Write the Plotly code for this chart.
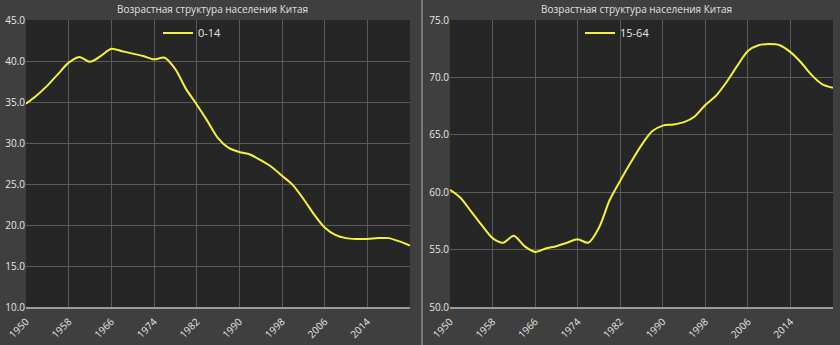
import plotly.graph_objects as go

# Population share by age group, China (percent)
years = list(range(1950, 2023, 2))

share_0_14 = [34.8, 35.8, 37.0, 38.4, 39.8, 40.5, 39.9, 40.6, 41.5, 41.2,
              40.9, 40.6, 40.2, 40.4, 39.0, 36.6, 34.7, 32.7, 30.6, 29.4,
              28.9, 28.6, 27.9, 27.1, 26.0, 24.9, 23.2, 21.3, 19.7, 18.8,
              18.4, 18.3, 18.3, 18.4, 18.4, 18.0, 17.5]

share_15_64 = [60.2, 59.5, 58.3, 57.1, 56.0, 55.6, 56.2, 55.3, 54.8, 55.1,
               55.3, 55.6, 55.9, 55.6, 56.9, 59.3, 61.0, 62.6, 64.1, 65.3,
               65.8, 65.9, 66.1, 66.6, 67.6, 68.4, 69.6, 71.0, 72.3, 72.8,
               72.9, 72.8, 72.2, 71.3, 70.2, 69.4, 69.1]

tick_years = list(range(1950, 2015, 8))
title_text = "Возрастная структура населения Китая"

W, H = 840, 345
LINE_COLOR = "#f4f23a"
PAPER = "#3f3f3f"
PLOT_BG = "#262626"
GRID = "#5a5a5a"
FONT = "Open Sans"

fig = go.Figure()

fig.add_trace(go.Scatter(
    x=years, y=share_0_14, name="0-14", mode="lines",
    line=dict(color=LINE_COLOR, width=2, shape="spline", smoothing=0.8),
    xaxis="x", yaxis="y", legend="legend",
))
fig.add_trace(go.Scatter(
    x=years, y=share_15_64, name="15-64", mode="lines",
    line=dict(color=LINE_COLOR, width=2, shape="spline", smoothing=0.8),
    xaxis="x2", yaxis="y2", legend="legend2",
))

y_top = 1 - 20 / H
y_bot = 1 - 307 / H

common_x = dict(
    range=[1950, 2022], tickvals=tick_years, ticktext=[str(t) for t in tick_years],
    tickangle=-45, showgrid=True, gridcolor=GRID, gridwidth=1,
    showline=True, linecolor="#9a9a9a", linewidth=2, zeroline=False,
    ticks="", ticklen=0, automargin=False, ticklabelstandoff=3,
    tickfont=dict(family=FONT, size=10, color="#e6e6e6"),
)
common_y = dict(
    showgrid=True, gridcolor=GRID, gridwidth=1, zeroline=False,
    showline=False, ticks="", tickformat=".1f", automargin=False,
    tickfont=dict(family=FONT, size=10, color="#e6e6e6"),
)

legend_common = dict(
    bgcolor="rgba(0,0,0,0)", font=dict(family=FONT, size=11, color="#e8e8e8"),
    itemwidth=30, yanchor="middle", xanchor="left", tracegroupgap=0,
)

fig.update_layout(
    width=W, height=H,
    margin=dict(l=0, r=0, t=0, b=0),
    showlegend=True,
    paper_bgcolor=PAPER, plot_bgcolor=PLOT_BG,
    xaxis=dict(domain=[26 / W, 410 / W], anchor="y", **common_x),
    yaxis=dict(domain=[y_bot, y_top], anchor="x", range=[10, 45], dtick=5, **common_y),
    xaxis2=dict(domain=[450 / W, 833 / W], anchor="y2", **common_x),
    yaxis2=dict(domain=[y_bot, y_top], anchor="x2", range=[50, 75], dtick=5, **common_y),
    legend=dict(x=158 / W, y=1 - 33 / H, **legend_common),
    legend2=dict(x=580 / W, y=1 - 33 / H, **legend_common),
    annotations=[
        dict(text=title_text, x=212 / W, y=1 - 9 / H, xref="paper", yref="paper",
             showarrow=False, xanchor="center", yanchor="middle",
             font=dict(family=FONT, size=10, color="#e0e0e0")),
        dict(text=title_text, x=636 / W, y=1 - 9 / H, xref="paper", yref="paper",
             showarrow=False, xanchor="center", yanchor="middle",
             font=dict(family=FONT, size=10, color="#e0e0e0")),
    ],
    shapes=[
        dict(type="line", xref="paper", yref="paper", x0=422 / W, x1=422 / W,
             y0=0, y1=1, line=dict(color="#8a8a8a", width=1.5)),
    ],
)

fig.write_html("out.html")
